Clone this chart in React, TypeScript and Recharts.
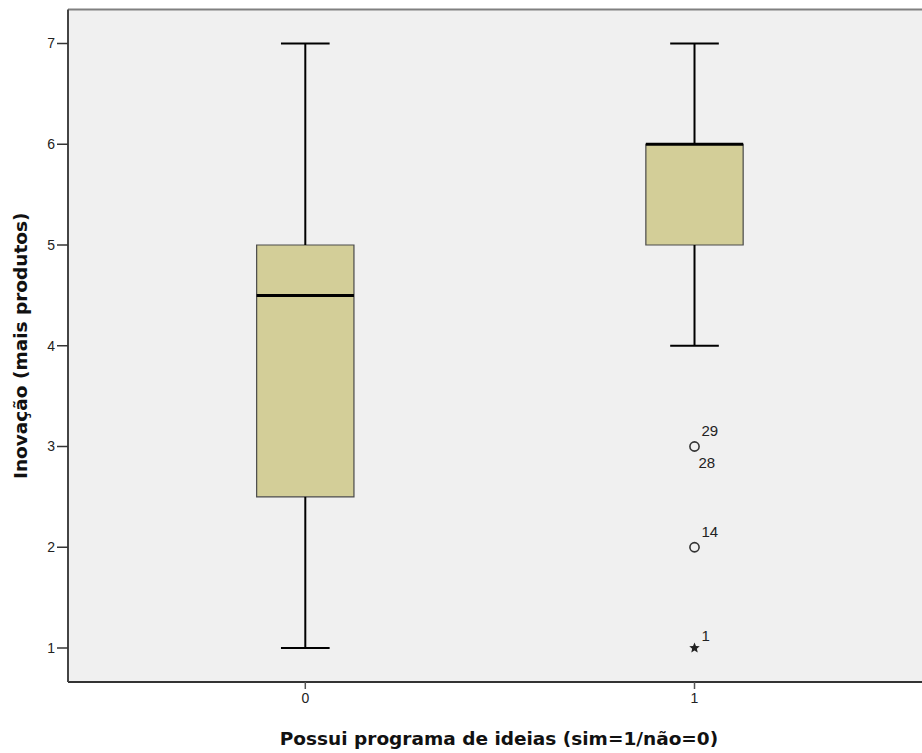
import {
  ScatterChart,
  Scatter,
  XAxis,
  YAxis,
  CartesianGrid,
  ReferenceArea,
  ReferenceLine,
  Label,
} from 'recharts';

// box plot summary per group
const categories = [0, 1];
const minValues = [1, 4];
const q1Values = [2.5, 5];
const medianValues = [4.5, 6];
const q3Values = [5, 6];
const maxValues = [7, 7];

// outliers (group 1 only)
const outlierX = [1, 1, 1];
const outlierY = [3, 2, 1];
const outlierLabels = [['29', '28'], ['14'], ['1']];
const outlierKinds = ['circle', 'circle', 'extreme'];

const yTicks = [1, 2, 3, 4, 5, 6, 7];
const xTicks = [0, 1];

const X_DOMAIN: [number, number] = [-0.6097, 1.5845];
const Y_DOMAIN: [number, number] = [0.6625, 7.3375];
const BOX_HALF = 0.125;
const CAP_HALF = 0.0625;

const outliers = outlierX.map((x, i) => ({
  x,
  y: outlierY[i],
  labels: outlierLabels[i],
  kind: outlierKinds[i],
}));

const numFont = '"Liberation Sans", Arial, sans-serif';
const titleFont = '"DejaVu Sans", Verdana, sans-serif';

const starPath = (cx: number, cy: number, r: number) => {
  const pts: string[] = [];
  for (let k = 0; k < 10; k++) {
    const rr = k % 2 === 0 ? r : r * 0.45;
    const a = -Math.PI / 2 + (k * Math.PI) / 5;
    pts.push(`${cx + rr * Math.cos(a)},${cy + rr * Math.sin(a)}`);
  }
  return `M${pts.join('L')}Z`;
};

const OutlierShape = (props: any) => {
  const { cx, cy, payload } = props;
  const labels: string[] = payload.labels;
  const textStyle = { fontFamily: numFont, fontSize: 15, fill: '#222' };
  return (
    <g>
      {payload.kind === 'extreme' ? (
        <path d={starPath(cx, cy, 5.5)} fill="#222" />
      ) : (
        <circle cx={cx} cy={cy} r={4.6} fill="none" stroke="#333" strokeWidth={1.6} />
      )}
      {payload.kind === 'extreme' ? (
        <text x={cx + 7} y={cy - 7} style={textStyle}>{labels[0]}</text>
      ) : (
        <text x={cx + 7} y={cy - 10} style={textStyle}>{labels[0]}</text>
      )}
      {labels[1] && (
        <text x={cx + 4} y={cy + 22} style={textStyle}>{labels[1]}</text>
      )}
    </g>
  );
};

const XTitle = (props: any) => {
  const { viewBox } = props;
  return (
    <text
      x={viewBox.x + viewBox.width / 2 + 4}
      y={viewBox.y + viewBox.height - 8}
      textAnchor="middle"
      style={{ fontFamily: titleFont, fontSize: 18.5, fontWeight: 'bold', fill: '#111' }}
    >
      Possui programa de ideias (sim=1/não=0)
    </text>
  );
};

export default function App() {
  return (
    <>
      <style>{'body { margin: 0; overflow: hidden; }'}</style>
      <ScatterChart width={922} height={753} margin={{ top: 9.5, right: 0, bottom: 0, left: 0 }}>
        <CartesianGrid fill="#f0f0f0" horizontal={false} vertical={false} />
        <XAxis
          type="number"
          dataKey="x"
          domain={X_DOMAIN}
          allowDataOverflow
          ticks={xTicks}
          height={71}
          tickSize={7}
          tickMargin={4}
          axisLine={{ stroke: '#333', strokeWidth: 2 }}
          tickLine={{ stroke: '#555', strokeWidth: 1.5 }}
          tick={{ fontFamily: numFont, fontSize: 14, fill: '#222' }}
        >
          <Label content={<XTitle />} />
        </XAxis>
        <YAxis
          type="number"
          dataKey="y"
          domain={Y_DOMAIN}
          allowDataOverflow
          ticks={yTicks}
          width={68}
          tickSize={11}
          tickMargin={2}
          axisLine={{ stroke: '#444', strokeWidth: 2 }}
          tickLine={{ stroke: '#333', strokeWidth: 1.5 }}
          tick={{ fontFamily: numFont, fontSize: 14, fill: '#222' }}
        >
          <Label
            value="Inovação (mais produtos)"
            angle={-90}
            position="insideLeft"
            offset={20}
            style={{ textAnchor: 'middle', fontFamily: titleFont, fontSize: 18.5, fontWeight: 'bold', fill: '#111' }}
          />
        </YAxis>
        <ReferenceLine y={Y_DOMAIN[1]} stroke="#808080" strokeWidth={2} />

        {categories.map((c, i) => (
          <ReferenceLine
            key={`wu${i}`}
            segment={[{ x: c, y: q3Values[i] }, { x: c, y: maxValues[i] }]}
            stroke="#000"
            strokeWidth={2}
          />
        ))}
        {categories.map((c, i) => (
          <ReferenceLine
            key={`wl${i}`}
            segment={[{ x: c, y: minValues[i] }, { x: c, y: q1Values[i] }]}
            stroke="#000"
            strokeWidth={2}
          />
        ))}
        {categories.map((c, i) => (
          <ReferenceLine
            key={`cu${i}`}
            segment={[{ x: c - CAP_HALF, y: maxValues[i] }, { x: c + CAP_HALF, y: maxValues[i] }]}
            stroke="#000"
            strokeWidth={2}
          />
        ))}
        {categories.map((c, i) => (
          <ReferenceLine
            key={`cl${i}`}
            segment={[{ x: c - CAP_HALF, y: minValues[i] }, { x: c + CAP_HALF, y: minValues[i] }]}
            stroke="#000"
            strokeWidth={2}
          />
        ))}
        {categories.map((c, i) => (
          <ReferenceArea
            key={`box${i}`}
            x1={c - BOX_HALF}
            x2={c + BOX_HALF}
            y1={q1Values[i]}
            y2={q3Values[i]}
            fill="#d3ce98"
            fillOpacity={1}
            stroke="#4a4a4a"
            strokeWidth={1.2}
          />
        ))}
        {categories.map((c, i) => (
          <ReferenceLine
            key={`med${i}`}
            segment={[{ x: c - BOX_HALF, y: medianValues[i] }, { x: c + BOX_HALF, y: medianValues[i] }]}
            stroke="#000"
            strokeWidth={3}
          />
        ))}

        <Scatter data={outliers} shape={<OutlierShape />} isAnimationActive={false} />
      </ScatterChart>
    </>
  );
}
